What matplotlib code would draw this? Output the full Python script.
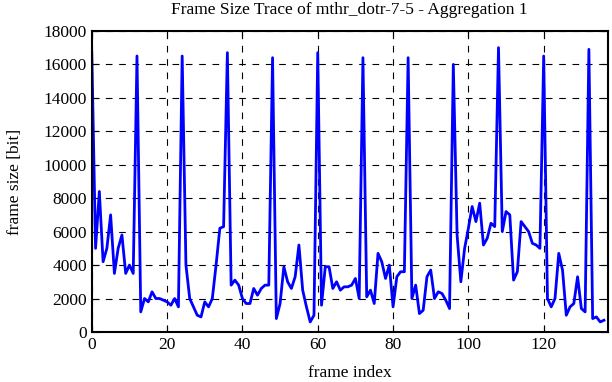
import numpy as np
import matplotlib
matplotlib.use("Agg")
import matplotlib.pyplot as plt

plt.rcParams['font.family'] = ['Liberation Serif', 'DejaVu Serif']

# frame size per frame index (bits)
frame_size = [
    16700, 5000, 8400, 4200, 5000, 7000, 3500, 5000, 5800, 3500, 4000, 3500,
    16500, 1200, 2000, 1800, 2400, 2000, 2000, 1900, 1800, 1600, 2000, 1500,
    16500, 4000, 2000, 1500, 1000, 900, 1800, 1500, 2000, 4000, 6200, 6300,
    16700, 2800, 3100, 2800, 2000, 1700, 1700, 2600, 2200, 2600, 2800, 2800,
    16400, 800, 1700, 3900, 3000, 2600, 3300, 5200, 2500, 1500, 600, 1000,
    16700, 1600, 3900, 3900, 2600, 3000, 2500, 2700, 2700, 2800, 3200, 2000,
    16400, 2100, 2500, 1700, 4700, 4200, 3200, 4000, 1500, 3300, 3600, 3600,
    16400, 2000, 2800, 1100, 1300, 3300, 3700, 2000, 2400, 2300, 1900, 1400,
    16000, 5800, 3000, 5000, 6200, 7500, 6600, 7700, 5200, 5600, 6500, 6300,
    17000, 6000, 7200, 7000, 3100, 3600, 6600, 6300, 6000, 5300, 5200, 5000,
    16500, 2000, 1500, 2000, 4700, 3700, 1000, 1500, 1700, 3300, 1400, 1200,
    16900, 800, 900, 600, 700,
]
frame_index = np.arange(len(frame_size))

fig = plt.figure(figsize=(6.12, 3.82), dpi=100)
ax = fig.add_axes([0.150, 0.131, 0.843, 0.788])

ax.plot(frame_index, frame_size, color='#0000ff', linewidth=2.0)

ax.set_xlim(0, 137)
ax.set_ylim(0, 18000)
ax.set_xticks(np.arange(0, 121, 20))
ax.set_yticks(np.arange(0, 18001, 2000))
ax.grid(True, color='black', linestyle=(0, (6, 6)), linewidth=0.8)
ax.tick_params(direction='in', top=True, right=True, length=5, labelsize=12.5)
for s in ax.spines.values():
    s.set_linewidth(1.5)

ax.set_xlabel('frame index', fontsize=12.5, labelpad=9)
ax.set_ylabel('frame size [bit]', fontsize=12.5, labelpad=15)
ax.set_title('Frame Size Trace of mthr_dotr-7-5 - Aggregation 1', fontsize=12.5, pad=12)

fig.savefig('out.png', dpi=100)
